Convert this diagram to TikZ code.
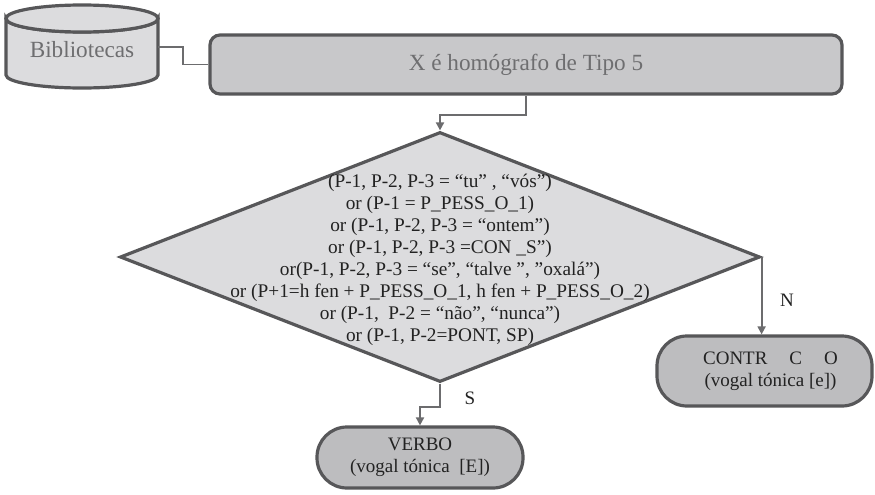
\documentclass[tikz,border=0pt]{standalone}
\usepackage{fontspec}
\setmainfont{Liberation Serif}
\usetikzlibrary{arrows.meta,shapes.geometric}

\definecolor{rim}{HTML}{575759}
\definecolor{wire}{HTML}{6C6C6E}
\definecolor{lightfill}{HTML}{DCDCDE}
\definecolor{midfill}{HTML}{C8C8CA}
\definecolor{darkfill}{HTML}{BDBDBF}
\definecolor{softtext}{HTML}{6E6E70}
\definecolor{inktext}{HTML}{222222}

\tikzset{
  rimline/.style={draw=rim, line width=3.2pt},
  wireline/.style={draw=wire, line width=1.8pt},
  arr/.style={wireline, -{Triangle[length=8pt,width=8pt]}},
  procbox/.style={rimline, fill=midfill, rounded corners=10pt, inner sep=0pt,
    text=softtext, font=\fontsize{23.2}{27}\selectfont},
  decbox/.style={diamond, rimline, fill=lightfill, inner sep=0pt,
    minimum width=640pt, minimum height=250pt},
  termbox/.style={rimline, fill=darkfill, rounded corners=30pt, inner sep=0pt,
    align=center, text=inktext, font=\fontsize{19}{22}\selectfont},
  lbl/.style={text=inktext, font=\fontsize{19}{22}\selectfont, inner sep=0pt}
}

\begin{document}
\begin{tikzpicture}[x=1pt,y=-1pt]
  \useasboundingbox[fill=white] (0,0) rectangle (875,495);

  % data store: cylinder drawn around a named text node
  \node[minimum width=152pt, minimum height=70pt, inner sep=0pt, text=softtext,
        font=\fontsize{23.2}{27}\selectfont] (bib) at (82,50) {Bibliotecas};
  \path[rimline, fill=lightfill]
    (6,18.5) -- (6,75) arc[start angle=180, end angle=360, x radius=76pt, y radius=13pt]
    -- (158,18.5) arc[start angle=0, end angle=-180, x radius=76pt, y radius=13.5pt] -- cycle;
  \path[rimline, fill=lightfill]
    (82,18.5) ellipse[x radius=76pt, y radius=13.5pt];
  \node[text=softtext, font=\fontsize{23.2}{27}\selectfont, inner sep=0pt] at (bib) {Bibliotecas};

  % main process box
  \node[procbox, minimum width=632pt, minimum height=59pt] (top) at (526,64.5)
    {X é homógrafo de Tipo 5};

  % decision
  \node[decbox] (dia) at (440,257) {};
  \node[align=center, text=inktext, inner sep=0pt,
        font=\fontsize{19.3}{22}\selectfont] (cond) at (440,260)
    {(P-1, P-2, P-3 = “tu” , “vós”)\\
     or (P-1 = P\_PESS\_O\_1)\\
     or (P-1, P-2, P-3 = “ontem”)\\
     or (P-1, P-2, P-3 =CON \_S”)\\
     or(P-1, P-2, P-3 = “se”, “talve\ ”, ”oxalá”)\\
     or (P+1=h fen + P\_PESS\_O\_1, h fen + P\_PESS\_O\_2)\\
     or (P-1,\ \ P-2 = “não”, “nunca”)\\
     or (P-1, P-2=PONT, SP)};

  % outcomes
  \node[termbox, minimum width=215pt, minimum height=70pt] (contr) at (764.5,371)
    {\hspace*{12pt}CONTR\hspace{22pt}C\hspace{22pt}O\\\hspace*{12pt}(vogal tónica [e])};
  \node[termbox, minimum width=206pt, minimum height=61pt] (verbo) at (420,457.5)
    {VERBO\\(vogal tónica\ \ [E])};

  % connectors
  \draw[wireline] (bib.east |- 0,47) -- ++(25,0) |- (top.west);
  \draw[arr] (top.south) -- ++(0,19) -| (dia.north);
  \draw[arr] (dia.east) -- (dia.east |- contr.north);
  \draw[arr] (dia.south) -- ++(0,23) -| (verbo.north);

  % branch labels
  \node[lbl] (lblS) at (470,398) {S};
  \node[lbl] (lblN) at (787,300) {N};
\end{tikzpicture}
\end{document}
